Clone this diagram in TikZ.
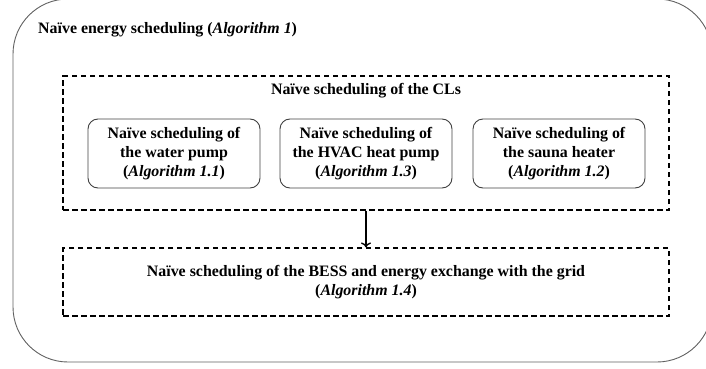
\documentclass[tikz,border=0pt]{standalone}
\usepackage{fontspec}
\setmainfont{Liberation Serif}
\usetikzlibrary{arrows.meta}
\begin{document}
\begin{tikzpicture}[x=1pt,y=-1pt,
  txt/.style={font=\fontsize{15.9}{19.3}\selectfont\bfseries, inner sep=0pt},
  outerbox/.style={draw=black!62, line width=0.9pt, rounded corners=55pt, minimum width=699pt, minimum height=363pt, inner sep=0pt},
  clbox/.style={txt, draw=black!75, line width=0.9pt, rounded corners=10pt, minimum width=172pt, minimum height=69pt, align=center},
  dbox/.style={draw, dash pattern=on 5.5pt off 3.5pt, line width=1.1pt, inner sep=0pt},
  flow/.style={-{To[length=5pt,width=10pt]}, line width=1.3pt},
]
\useasboundingbox (0,0) rectangle (706,369);
\clip (0,0) rectangle (706,369);
\node[outerbox] (outer) at (362.5,180.5) {};
\node[txt, anchor=base west] (title) at (38,34) {Naïve energy scheduling (\textit{Algorithm 1})};
\node[dbox, minimum width=606pt, minimum height=134pt] (cls) at (366,143) {};
\node[txt, anchor=base] (clstitle) at (366,94) {Naïve scheduling of the CLs};
\node[clbox] (wp) at (174,153.5) {Naïve scheduling of\\the water pump\\(\textit{Algorithm 1.1})};
\node[clbox] (hvac) at (366,153.5) {Naïve scheduling of\\the HVAC heat pump\\(\textit{Algorithm 1.3})};
\node[clbox] (sauna) at (559,153.5) {Naïve scheduling of\\the sauna heater\\(\textit{Algorithm 1.2})};
\node[dbox, txt, minimum width=606pt, minimum height=68pt, align=center] (bess) at (366,282) {Naïve scheduling of the BESS and energy exchange with the grid\\(\textit{Algorithm 1.4})};
\draw[flow] (cls.south) -- (bess.north);
\end{tikzpicture}
\end{document}
